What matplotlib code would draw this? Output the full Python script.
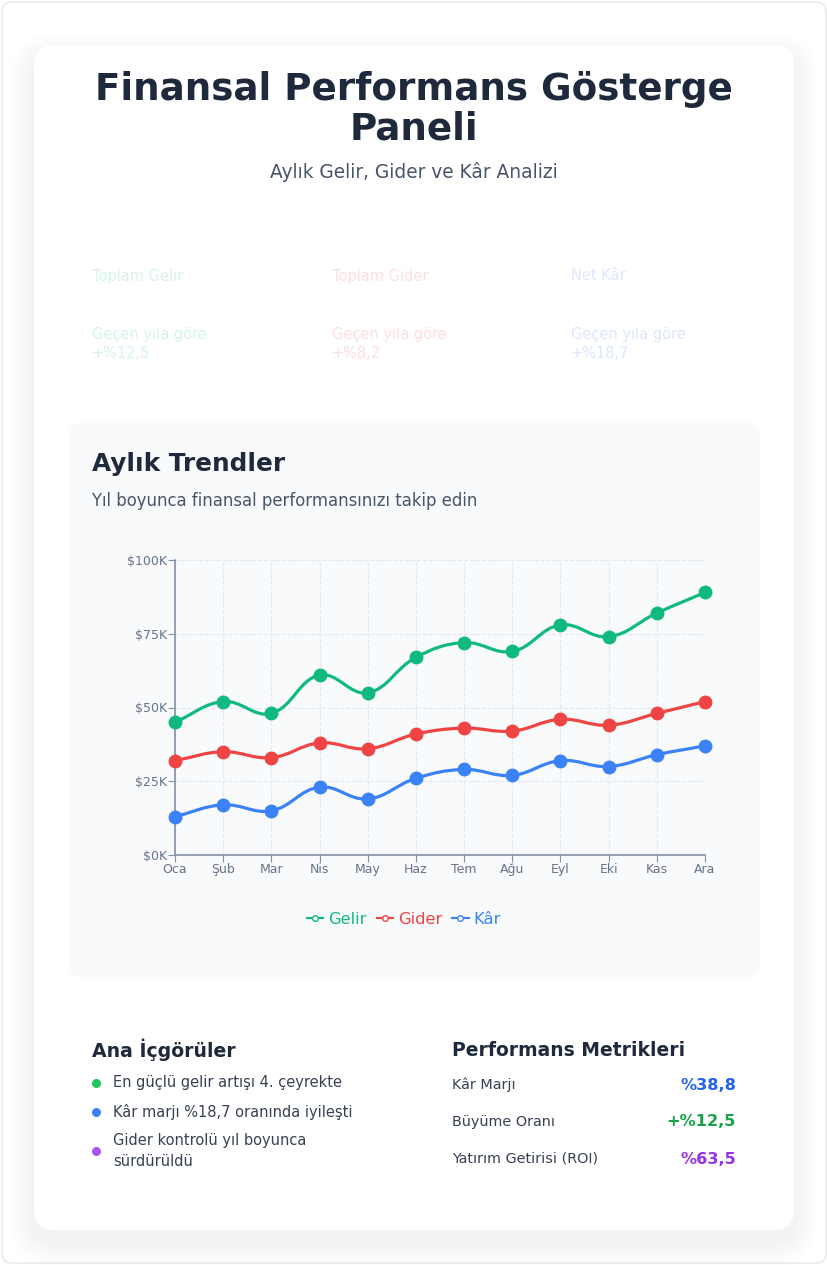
import numpy as np
import matplotlib.pyplot as plt
from matplotlib.patches import FancyBboxPatch, PathPatch
from matplotlib.path import Path
from matplotlib.lines import Line2D

plt.rcParams['font.family'] = ['DejaVu Sans']

# --- data ---
months = ['Oca', 'Şub', 'Mar', 'Nis', 'May', 'Haz', 'Tem', 'Ağu', 'Eyl', 'Eki', 'Kas', 'Ara']
gelir = [45000, 52000, 48000, 61000, 55000, 67000, 72000, 69000, 78000, 74000, 82000, 89000]
gider = [32000, 35000, 33000, 38000, 36000, 41000, 43000, 42000, 46000, 44000, 48000, 52000]
kar = [13000, 17000, 15000, 23000, 19000, 26000, 29000, 27000, 32000, 30000, 34000, 37000]
series_names = ['Gelir', 'Gider', 'Kâr']
series_colors = ['#10b981', '#ef4444', '#3b82f6']
y_ticks = [0, 25000, 50000, 75000, 100000]
y_labels = ['$0K', '$25K', '$50K', '$75K', '$100K']

kpi_titles = ['Toplam Gelir', 'Toplam Gider', 'Net Kâr']
kpi_changes = ['+%12,5', '+%8,2', '+%18,7']
kpi_colors = ['#d6f3e8', '#fcdfdf', '#dbe7fc']

insights = ['En güçlü gelir artışı 4. çeyrekte',
            'Kâr marjı %18,7 oranında iyileşti',
            'Gider kontrolü yıl boyunca\nsürdürüldü']
insight_colors = ['#22c55e', '#3b82f6', '#a855f7']

metric_names = ['Kâr Marjı', 'Büyüme Oranı', 'Yatırım Getirisi (ROI)']
metric_values = ['%38,8', '+%12,5', '%63,5']
metric_colors = ['#2563eb', '#16a34a', '#9333ea']

W, H = 828, 1265
fig = plt.figure(figsize=(W / 100, H / 100), dpi=100)
fig.patch.set_facecolor('white')

# background layer in pixel coordinates
bg = fig.add_axes([0, 0, 1, 1], zorder=0)
bg.set_xlim(0, W)
bg.set_ylim(H, 0)
bg.axis('off')

bg.add_patch(FancyBboxPatch((2, 2), W - 4, H - 4, boxstyle='round,pad=0,rounding_size=10',
                            facecolor='white', edgecolor='#e5e7eb', lw=1))
# soft card shadow
for g in range(24, 0, -2):
    bg.add_patch(FancyBboxPatch((34 - g, 45 - g + 12), 760 + 2 * g, 1185 + 2 * g,
                                boxstyle='round,pad=0,rounding_size=%d' % (20 + g),
                                facecolor='black', edgecolor='none', alpha=0.0045))
bg.add_patch(FancyBboxPatch((34, 45), 760, 1185, boxstyle='round,pad=0,rounding_size=20',
                            facecolor='white', edgecolor='none'))
# chart panel
bg.add_patch(FancyBboxPatch((68, 423), 692, 554, boxstyle='round,pad=0,rounding_size=12',
                            facecolor='#f8fafc', edgecolor='none'))

# header
bg.text(414, 89, 'Finansal Performans Gösterge', ha='center', va='center',
        fontsize=26.8, fontweight='bold', color='#1e293b')
bg.text(414, 129, 'Paneli', ha='center', va='center',
        fontsize=26.8, fontweight='bold', color='#1e293b')
bg.text(414, 172, 'Aylık Gelir, Gider ve Kâr Analizi', ha='center', va='center',
        fontsize=13.4, color='#475569')

# faded KPI cards
kpi_x = [92, 332, 571]
for x, t, c, col in zip(kpi_x, kpi_titles, kpi_changes, kpi_colors):
    bg.text(x, 276, t, ha='left', va='center', fontsize=10.5, color=col)
    bg.text(x, 334, 'Geçen yıla göre', ha='left', va='center', fontsize=10.5, color=col)
    bg.text(x, 354, c, ha='left', va='center', fontsize=10.5, color=col)

# chart panel titles
bg.text(92, 464, 'Aylık Trendler', ha='left', va='center', fontsize=17.8,
        fontweight='bold', color='#1e293b')
bg.text(92, 501, 'Yıl boyunca finansal performansınızı takip edin', ha='left',
        va='center', fontsize=11.9, color='#475569')

# insights
bg.text(92, 1050, 'Ana İçgörüler', ha='left', va='center', fontsize=13.6,
        fontweight='bold', color='#1e293b')
insight_y = [1083, 1112, 1151]
for y, txt, col in zip(insight_y, insights, insight_colors):
    bg.scatter([96], [y], s=30, color=col, zorder=3)
    bg.text(113, y, txt, ha='left', va='center', fontsize=10.5, color='#374151',
            linespacing=1.5)

bg.text(452, 1050, 'Performans Metrikleri', ha='left', va='center', fontsize=13.5,
        fontweight='bold', color='#1e293b')
metric_y = [1085, 1122, 1159]
for y, name, val, col in zip(metric_y, metric_names, metric_values, metric_colors):
    bg.text(452, y, name, ha='left', va='center', fontsize=10.35, color='#374151')
    bg.text(736, y, val, ha='right', va='center', fontsize=11.6, fontweight='bold', color=col)

# --- line chart ---
ax = fig.add_axes([175 / W, 1 - 855 / H, 530 / W, 295 / H], zorder=2)
ax.patch.set_alpha(0)
x = np.arange(len(months))


def smooth_path(xs, ys, tension=0.4):
    # cubic segments through every point, control points weighted by screen distance
    pts = np.column_stack([xs, ys]).astype(float)
    scr = pts * np.array([530 / 11, 295 / 100000])
    n = len(pts)
    c_in = [pts[0]] * n
    c_out = [pts[-1]] * n
    for i in range(n):
        p = pts[max(i - 1, 0)]
        q = pts[min(i + 1, n - 1)]
        d01 = np.hypot(*(scr[i] - scr[max(i - 1, 0)]))
        d12 = np.hypot(*(scr[min(i + 1, n - 1)] - scr[i]))
        tot = d01 + d12 if d01 + d12 > 0 else 1
        c_in[i] = pts[i] - tension * d01 / tot * (q - p)
        c_out[i] = pts[i] + tension * d12 / tot * (q - p)
    verts = [pts[0]]
    codes = [Path.MOVETO]
    for i in range(n - 1):
        verts += [c_out[i], c_in[i + 1], pts[i + 1]]
        codes += [Path.CURVE4] * 3
    return Path(verts, codes)


for vals, name, col in zip([gelir, gider, kar], series_names, series_colors):
    ax.add_patch(PathPatch(smooth_path(x, vals), facecolor='none', edgecolor=col,
                           lw=2.3, zorder=3, clip_on=False))
    ax.plot(x, vals, linestyle='none', marker='o', markersize=9, color=col,
            markeredgecolor=col, zorder=4, clip_on=False)

ax.set_xlim(0, 11)
ax.set_ylim(0, 100000)
ax.set_xticks(x)
ax.set_xticklabels(months)
ax.set_yticks(y_ticks)
ax.set_yticklabels(y_labels)
ax.tick_params(colors='#8391a5', labelcolor='#64748b', labelsize=9, length=5, pad=1)
for side in ['top', 'right']:
    ax.spines[side].set_visible(False)
for side in ['left', 'bottom']:
    ax.spines[side].set_color('#8391a5')
    ax.spines[side].set_linewidth(1.2)
ax.grid(True, linestyle='--', color='#e2e8f0', linewidth=0.8)
ax.set_axisbelow(True)

handles = [Line2D([], [], color=c, lw=1.5, marker='o', markersize=4,
                  markerfacecolor='white', markeredgecolor=c) for c in series_colors]
ax.legend(handles, series_names, loc='center', bbox_to_anchor=(229 / 530, -64 / 295),
          ncol=3, frameon=False, fontsize=11.8, labelcolor=series_colors,
          handlelength=1.0, handletextpad=0.3, columnspacing=0.6)

fig.savefig('out.png', dpi=100)
